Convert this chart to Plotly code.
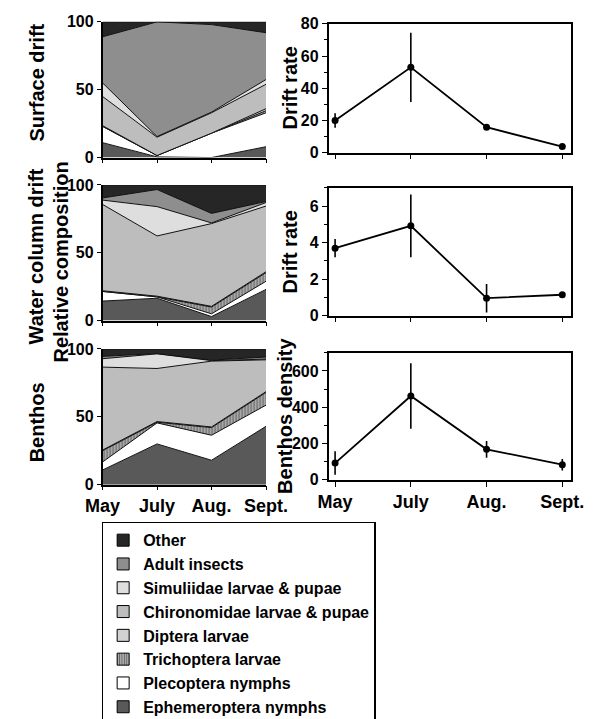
import plotly.graph_objects as go

months = ["May", "July", "Aug.", "Sept."]
xpos = [0, 1, 2, 3]

taxa = ["Ephemeroptera nymphs", "Plecoptera nymphs", "Trichoptera larvae",
        "Diptera larvae", "Chironomidae larvae & pupae",
        "Simuliidae larvae & pupae", "Adult insects", "Other"]

# relative composition (%), bottom-to-top in stacking order
surface_eph = [11, 0.5, 0, 8]
surface_plec = [12, 1, 18, 25]
surface_tric = [0, 0, 0, 1.5]
surface_dipt = [0.5, 0, 0, 1.5]
surface_chir = [21.5, 13.5, 15, 18]
surface_simu = [10, 0.5, 0.5, 3.5]
surface_adul = [34, 84.5, 64.5, 34.5]
surface_othe = [11, 0, 2, 8]

water_eph = [14.4, 16.5, 3, 23]
water_plec = [7.1, 1, 2, 6]
water_tric = [0, 0, 5, 6.4]
water_dipt = [0.5, 0.5, 0.5, 0.6]
water_chir = [63.6, 44.4, 61, 48.4]
water_simu = [3.2, 21.6, 0.5, 2.6]
water_adul = [1.6, 12.6, 7, 0.8]
water_othe = [9.6, 3.4, 21, 12.2]

benthos_eph = [10.8, 30, 18, 43]
benthos_plec = [5.9, 15.5, 18.4, 15.6]
benthos_tric = [8.3, 0.5, 5.6, 9.4]
benthos_dipt = [0.5, 0.5, 0.5, 0.5]
benthos_chir = [61.1, 39.1, 48.5, 23.5]
benthos_simu = [6.2, 10.8, 0.4, 0.5]
benthos_adul = [1.7, 0.2, 0.4, 1.5]
benthos_othe = [5.5, 3.4, 8.2, 6]

# absolute values with error bars
surface_rate = [20, 53, 15.8, 3.8]
surface_err = [4.5, 21.5, 1.0, 1.5]
water_rate = [3.7, 4.92, 0.96, 1.15]
water_err = [0.5, 1.72, 0.78, 0.15]
benthos_dens = [92, 462, 168, 83]
benthos_err = [65, 180, 46, 32]

fill_colors = ["#595959", "#ffffff", "#a8a8a8", "#d2d2d2", "#bdbdbd",
               "#dedede", "#8e8e8e", "#262626"]
patterns = ["", "", "|", "", "", "", "", ""]

W, H = 605, 719
OFF = 8  # default page body margin
FONT = "Liberation Sans"


def fx(px):
    return (px - OFF) / W


def fy(py):
    return 1 - (py - OFF) / H


fig = go.Figure()

panels = [
    ([surface_eph, surface_plec, surface_tric, surface_dipt, surface_chir,
      surface_simu, surface_adul, surface_othe], "x", "y"),
    ([water_eph, water_plec, water_tric, water_dipt, water_chir,
      water_simu, water_adul, water_othe], "x2", "y2"),
    ([benthos_eph, benthos_plec, benthos_tric, benthos_dipt, benthos_chir,
      benthos_simu, benthos_adul, benthos_othe], "x3", "y3"),
]

for series, xa, ya in panels:
    for i, vals in enumerate(series):
        kw = {}
        if patterns[i]:
            kw["fillpattern"] = dict(shape=patterns[i], fgcolor="#222222",
                                     bgcolor=fill_colors[i], size=3, solidity=0.35)
        fig.add_trace(go.Scatter(
            x=xpos, y=vals, xaxis=xa, yaxis=ya,
            name=taxa[i], stackgroup="s" + xa, mode="lines",
            line=dict(color="#111111", width=1),
            fillcolor=fill_colors[i],
            showlegend=False, hoverinfo="skip", **kw))

# legend entries (square swatches) for the taxa
for i in range(len(taxa) - 1, -1, -1):
    mk = dict(color=fill_colors[i], line=dict(color="black", width=1))
    if patterns[i]:
        mk["pattern"] = dict(shape=patterns[i], fgcolor="#222222",
                             bgcolor=fill_colors[i], size=3, solidity=0.35)
    fig.add_trace(go.Bar(x=[None], y=[None], xaxis="x", yaxis="y",
                         name=taxa[i], marker=mk, showlegend=True,
                         hoverinfo="skip"))

for vals, errs, xa, ya in [(surface_rate, surface_err, "x4", "y4"),
                           (water_rate, water_err, "x5", "y5"),
                           (benthos_dens, benthos_err, "x6", "y6")]:
    fig.add_trace(go.Scatter(
        x=xpos, y=vals, xaxis=xa, yaxis=ya, mode="lines+markers",
        line=dict(color="black", width=1.8),
        marker=dict(color="black", size=7),
        error_y=dict(type="data", array=errs, width=0, thickness=1.6, color="black"),
        showlegend=False, hoverinfo="skip"))

tickfont = dict(family=FONT, size=16, color="black", weight="bold")
monthfont = dict(family=FONT, size=18, color="black", weight="bold")

left_x = [fx(90), fx(265)]
right_x = [fx(332), fx(592)]
left_y = [(14, 153), (181, 320), (349, 488)]
right_y = [(16, 148), (184, 315), (353, 483)]

layout = dict(
    width=W, height=H, autosize=False,
    margin=dict(l=0, r=0, t=0, b=0),
    paper_bgcolor="white", plot_bgcolor="white",
    font=dict(family=FONT, color="black"),
)

for k in range(3):
    xn = "xaxis" if k == 0 else f"xaxis{k + 1}"
    yn = "yaxis" if k == 0 else f"yaxis{k + 1}"
    ax_id = "y" if k == 0 else f"y{k + 1}"
    xid = "x" if k == 0 else f"x{k + 1}"
    layout[xn] = dict(domain=left_x, range=[0, 3], anchor=ax_id,
                      tickvals=xpos, ticktext=months if k == 2 else [""] * 4,
                      ticks="outside", ticklen=4, tickwidth=1.2, tickcolor="black",
                      showline=True, linecolor="black", linewidth=1.5,
                      showgrid=False, zeroline=False, tickfont=monthfont)
    layout[yn] = dict(domain=[fy(left_y[k][1]), fy(left_y[k][0])], range=[0, 100],
                      anchor=xid, tickvals=[0, 50, 100], ticks="outside", ticklen=4,
                      tickwidth=1.2, tickcolor="black",
                      showline=True, linecolor="black", linewidth=1.5,
                      showgrid=False, zeroline=False, tickfont=tickfont)

right_specs = [([0, 80], 20, 10), ([0, 7], 2, 1), ([0, 700], 200, 100)]
for k in range(3):
    n = k + 4
    rng, dt, mdt = right_specs[k]
    layout[f"xaxis{n}"] = dict(domain=right_x, range=[-0.086, 3.12], anchor=f"y{n}",
                               tickvals=xpos, ticktext=months if k == 2 else [""] * 4,
                               ticks="outside", ticklen=5, tickwidth=1.2, tickcolor="black",
                               showline=True, mirror=True, linecolor="black", linewidth=1.5,
                               showgrid=False, zeroline=False, tickfont=monthfont)
    layout[f"yaxis{n}"] = dict(domain=[fy(right_y[k][1]), fy(right_y[k][0])], range=rng,
                               anchor=f"x{n}", dtick=dt, tick0=0, ticks="outside", ticklen=5,
                               tickwidth=1.2, tickcolor="black",
                               minor=dict(dtick=mdt, ticklen=3, tickcolor="black", ticks="outside"),
                               showline=True, mirror=True, linecolor="black", linewidth=1.5,
                               showgrid=False, zeroline=False, tickfont=tickfont)

fig.update_layout(**layout)

titlefont = dict(family=FONT, size=20, color="black", weight="bold")
titles = [
    ("Surface drift", 20, 76),
    ("Water column drift", 19, 254),
    ("Relative composition", 46, 260),
    ("Benthos", 20, 424),
    ("Drift rate", 291, 82),
    ("Drift rate", 291, 250),
    ("Benthos density", 286, 418),
]
for txt, px, py in titles:
    fig.add_annotation(text=txt, x=fx(px), y=fy(py), xref="paper", yref="paper",
                       showarrow=False, textangle=-90, font=titlefont,
                       xanchor="center", yanchor="middle")

fig.update_layout(legend=dict(
    x=fx(89), y=fy(526), xanchor="left", yanchor="top",
    bordercolor="black", borderwidth=1.5, bgcolor="white",
    font=dict(family=FONT, size=16, color="black", weight="bold"),
    traceorder="normal", itemwidth=30, tracegroupgap=0,
))

fig.write_html("out.html")
